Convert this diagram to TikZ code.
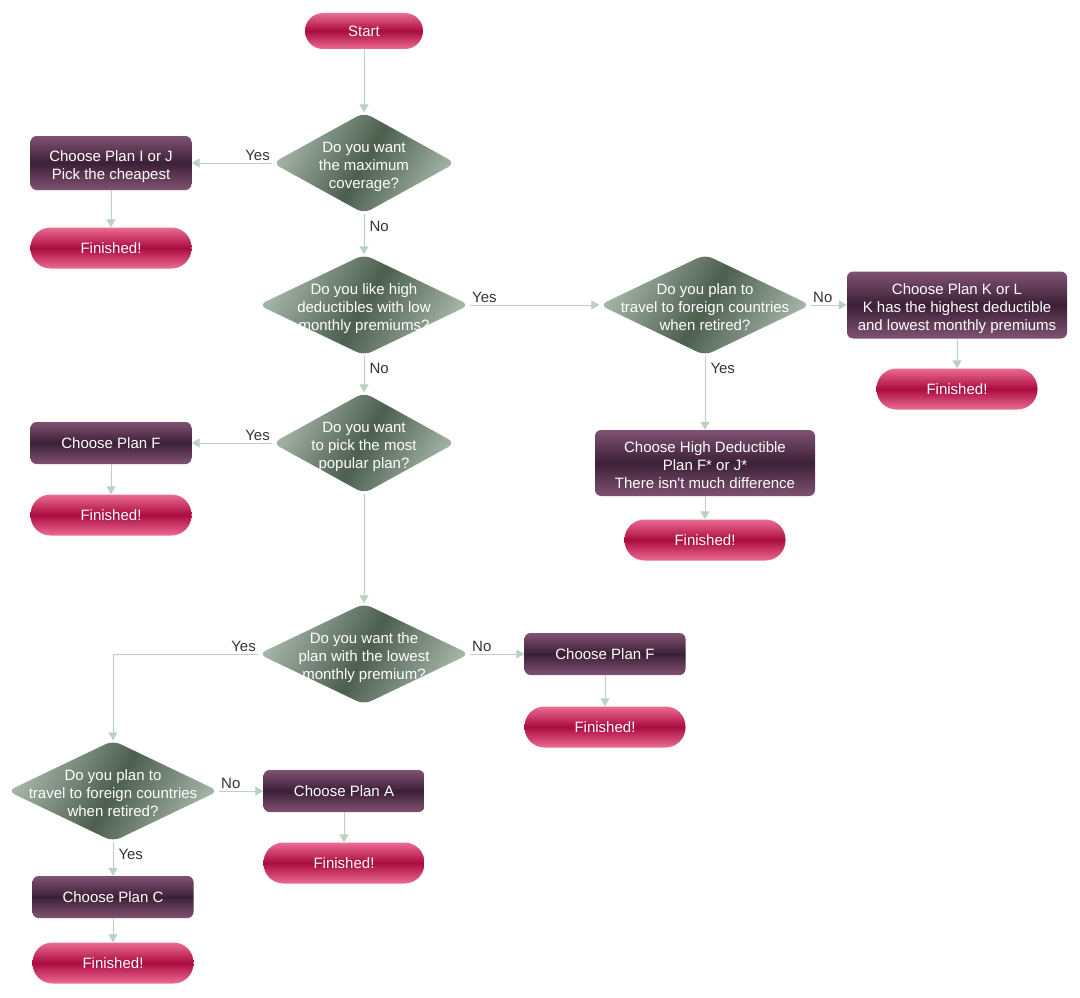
\documentclass[tikz,border=0pt]{standalone}
\usepackage{fontspec}
\setmainfont{Liberation Sans}
\usetikzlibrary{shapes.geometric, arrows.meta}
\definecolor{mypinklight}{RGB}{236,108,146}
\definecolor{mypinkdark}{RGB}{170,12,64}
\definecolor{mypurplelight}{RGB}{128,82,114}
\definecolor{mypurpledark}{RGB}{60,32,55}
\definecolor{mygreenlight}{RGB}{163,180,167}
\definecolor{mygreendark}{RGB}{76,94,78}
\definecolor{myline}{RGB}{186,210,192}
\definecolor{mytext}{RGB}{51,51,51}
\newcommand{\widthbox}{161pt}
\newcommand{\widthwide}{220pt}
\newcommand{\widthdiamond}{183pt}
\newcommand{\widthwidediamond}{211pt}
\newcommand{\ntext}[1]{\smash{\makebox[0pt]{\raisebox{\dimexpr-0.25em-4pt\relax}{\begin{tabular}{@{}c@{}}#1\end{tabular}}}}}
\tikzset{
    common/.style={font=\fontsize{15}{18}\selectfont, text=white, align=center, inner sep=0pt},
    terminal/.style={common, rectangle, rounded corners=20pt, minimum width=\widthbox, minimum height=41pt,
        top color=mypinklight, bottom color=mypinklight, middle color=mypinkdark},
    action/.style={common, rectangle, rounded corners=6pt, minimum width=\widthbox, minimum height=42pt,
        top color=mypurplelight, bottom color=mypurplelight, middle color=mypurpledark},
    decision/.style={common, diamond, rounded corners=8pt, minimum width=\widthdiamond, minimum height=101pt,
        left color=mygreenlight, right color=mygreenlight, middle color=mygreendark, shading angle=60},
    arrow/.style={draw=myline, line width=1pt, -{Triangle[width=9pt, length=8pt]}},
    lbl/.style={font=\fontsize{15}{18}\selectfont, text=mytext, inner sep=2pt},
    lblbelow/.style={lbl, below right, xshift=3pt, yshift=-5pt}
}
\begin{document}
\begin{tikzpicture}[x=1pt, y=-1pt]
    \useasboundingbox (0,0) rectangle (1080,998);

    \node[terminal, minimum width=118pt, minimum height=36pt, rounded corners=18pt] (start) at (364,31) {Start};
    \node[decision] (qcover) at (364,163) {\ntext{Do you want\\the maximum\\coverage?}};
    \node[action, minimum height=54pt] (planij) at (111,163) {\ntext{Choose Plan I or J\\Pick the cheapest}};
    \node[terminal] (endij) at (111,248) {Finished!};

    \node[decision, minimum width=\widthwidediamond] (qdeduct) at (364,305) {\ntext{Do you like high\\deductibles with low\\monthly premiums?}};
    \node[decision, minimum width=\widthwidediamond] (qtravelhigh) at (705,305) {\ntext{Do you plan to\\travel to foreign countries\\when retired?}};
    \node[action, minimum width=\widthwide, minimum height=67pt] (plankl) at (957,305) {\ntext{Choose Plan K or L\\K has the highest deductible\\and lowest monthly premiums}};
    \node[terminal] (endkl) at (957,389) {Finished!};
    \node[action, minimum width=\widthwide, minimum height=66pt] (planfj) at (705,463) {\ntext{Choose High Deductible\\Plan F* or J*\\There isn\textquotesingle t much difference}};
    \node[terminal] (endfj) at (705,540) {Finished!};

    \node[decision] (qpopular) at (364,443) {\ntext{Do you want\\to pick the most\\popular plan?}};
    \node[action] (planf) at (111,443) {Choose Plan F};
    \node[terminal] (endf) at (111,515) {Finished!};

    \node[decision, minimum width=\widthwidediamond] (qlowest) at (364,654) {\ntext{Do you want the\\plan with the lowest\\monthly premium?}};
    \node[action] (planfb) at (605,654) {Choose Plan F};
    \node[terminal] (endfb) at (605,727) {Finished!};

    \node[decision, minimum width=\widthwidediamond] (qtravel) at (113,791) {\ntext{Do you plan to\\travel to foreign countries\\when retired?}};
    \node[action] (plana) at (344,791) {Choose Plan A};
    \node[terminal] (enda) at (344,863) {Finished!};
    \node[action] (planc) at (113,897) {Choose Plan C};
    \node[terminal] (endc) at (113,963) {Finished!};

    \draw[arrow] (start) -- (qcover);
    \draw[arrow] (qcover.west) node[lbl, above left] {Yes} -- (planij.east);
    \draw[arrow] (planij) -- (endij);
    \draw[arrow] (qcover.south) node[lblbelow] {No} -- (qdeduct.north);
    \draw[arrow] (qdeduct.east) node[lbl, above right] {Yes} -- (qtravelhigh.west);
    \draw[arrow] (qtravelhigh.east) node[lbl, above right] {No} -- (plankl.west);
    \draw[arrow] (plankl) -- (endkl);
    \draw[arrow] (qtravelhigh.south) node[lblbelow] {Yes} -- (planfj.north);
    \draw[arrow] (planfj) -- (endfj);
    \draw[arrow] (qdeduct.south) node[lblbelow] {No} -- (qpopular.north);
    \draw[arrow] (qpopular.west) node[lbl, above left] {Yes} -- (planf.east);
    \draw[arrow] (planf) -- (endf);
    \draw[arrow] (qpopular.south) -- (qlowest.north);
    \draw[arrow] (qlowest.east) node[lbl, above right] {No} -- (planfb.west);
    \draw[arrow] (planfb) -- (endfb);
    \draw[arrow] (qlowest.west) node[lbl, above left] {Yes} -| (qtravel.north);
    \draw[arrow] (qtravel.east) node[lbl, above right] {No} -- (plana.west);
    \draw[arrow] (plana) -- (enda);
    \draw[arrow] (qtravel.south) node[lblbelow] {Yes} -- (planc.north);
    \draw[arrow] (planc) -- (endc);
\end{tikzpicture}
\end{document}
